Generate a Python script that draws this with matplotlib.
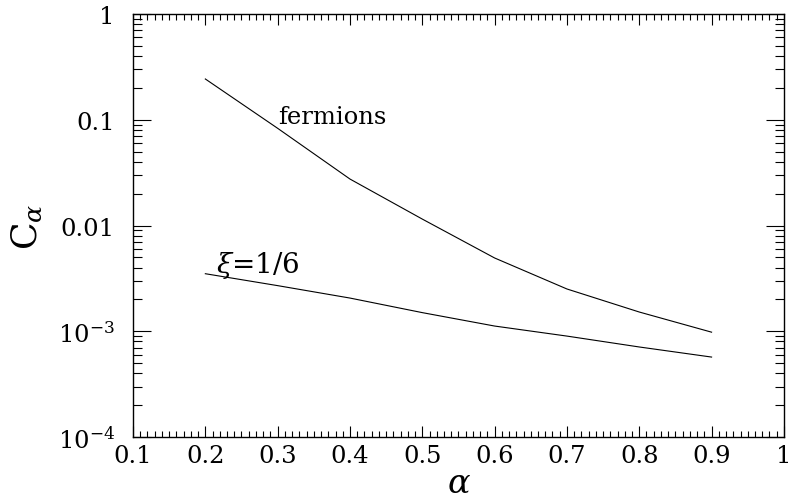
import matplotlib

matplotlib.use("Agg")
import matplotlib.pyplot as plt
from matplotlib.ticker import FixedLocator, LogLocator, NullFormatter, MultipleLocator

# values
alpha = [0.2, 0.3, 0.4, 0.5, 0.6, 0.7, 0.8, 0.9]
c_fermions = [0.243, 0.083, 0.0275, 0.0115, 0.00493, 0.00251, 0.00152, 0.00098]
c_xi = [0.0035, 0.0027, 0.00206, 0.0015, 0.00112, 0.0009, 0.00071, 0.00057]

x_ticks = [0.1, 0.2, 0.3, 0.4, 0.5, 0.6, 0.7, 0.8, 0.9, 1.0]
x_tick_labels = ["0.1", "0.2", "0.3", "0.4", "0.5", "0.6", "0.7", "0.8", "0.9", "1"]
y_ticks = [1e-4, 1e-3, 1e-2, 1e-1, 1.0]
y_tick_labels = [r"$10^{-4}$", r"$10^{-3}$", "0.01", "0.1", "1"]

plt.rcParams["font.family"] = "DejaVu Serif"
plt.rcParams["mathtext.fontset"] = "dejavuserif"

fig = plt.figure(figsize=(7.88, 5.02), dpi=100)
ax = fig.add_axes([0.1688, 0.1275, 0.826, 0.8426])

ax.plot(alpha, c_fermions, color="black", linewidth=0.8)
ax.plot(alpha, c_xi, color="black", linewidth=0.8)

ax.set_yscale("log")
ax.set_xlim(0.1, 1.0)
ax.set_ylim(1e-4, 1.0)

ax.xaxis.set_major_locator(FixedLocator(x_ticks))
ax.set_xticklabels(x_tick_labels)
ax.xaxis.set_minor_locator(MultipleLocator(0.01))
ax.yaxis.set_major_locator(FixedLocator(y_ticks))
ax.set_yticklabels(y_tick_labels)
ax.yaxis.set_minor_locator(LogLocator(base=10, subs=range(2, 10)))
ax.yaxis.set_minor_formatter(NullFormatter())

ax.tick_params(axis="both", which="both", direction="in", top=True, right=True,
               labelsize=17.5, width=0.8, colors="black")
ax.tick_params(axis="x", which="major", length=8, pad=5)
ax.tick_params(axis="x", which="minor", length=4)
ax.tick_params(axis="y", which="major", length=13, pad=13)
ax.tick_params(axis="y", which="minor", length=6.5)
for spine in ax.spines.values():
    spine.set_linewidth(1.0)

ax.text(0.3, 0.108, "fermions", fontsize=17.5, ha="left", va="center")
ax.text(0.215, 0.0043, r"$\xi$=1/6", fontsize=20, ha="left", va="center")

ax.set_xlabel(r"$\alpha$", fontsize=24, labelpad=0)
ax.set_ylabel(r"$\mathrm{C}_\alpha$", fontsize=26, labelpad=10)

fig.savefig("out.png", dpi=100)
